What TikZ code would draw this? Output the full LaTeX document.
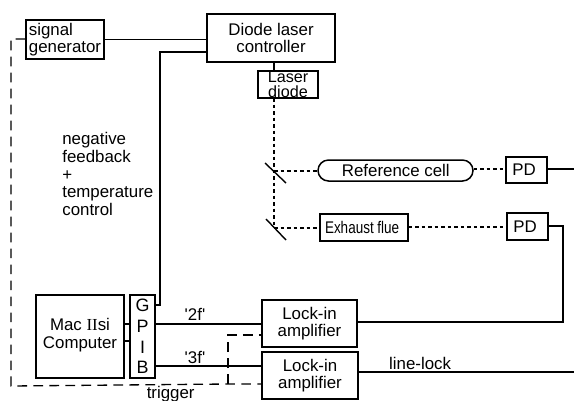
\documentclass[tikz,border=0pt]{standalone}
\usepackage{fontspec}
\setmainfont{Liberation Sans}
\newfontfamily\iifont{Liberation Serif}
\newfontfamily\narrowfont[FakeStretch=0.8]{Liberation Sans}
\usetikzlibrary{calc, shapes.misc}
\tikzset{
	boxnode/.style={
			rectangle,
			draw=black,
			line width=0.85pt,
			inner sep=0pt,
			align=center,
			font=\fontsize{9.6}{9.9}\selectfont
		},
	cellnode/.style={
			boxnode,
			rounded rectangle
		},
	labelnode/.style={
			inner sep=0pt,
			align=left,
			font=\fontsize{9.6}{10.2}\selectfont
		},
	wire/.style={
			line width=0.75pt
		},
	beam/.style={
			line width=0.8pt,
			dash pattern=on 2pt off 1.7pt
		},
	trigline/.style={
			line width=0.75pt,
			dash pattern=on 5.5pt off 3.6pt
		}
}

\begin{document}
\begin{tikzpicture}[x=0.02cm, y=-0.02cm]
\useasboundingbox (0,0) rectangle (574,400);

\node[boxnode, minimum width=1.56cm, minimum height=0.78cm, align=left] (sg) at (65,39.5)  { signal\\generator };
\node[boxnode, minimum width=2.56cm, minimum height=0.96cm] (dlc) at (271,38)  { Diode laser\\controller };
\node[boxnode, minimum width=1.2cm, minimum height=0.54cm, font=\fontsize{9.2}{8.5}\selectfont] (ld) at (288,84.5)  { Laser\\diode };
\node[cellnode, minimum width=3.1cm, minimum height=0.42cm] (rc) at (395.5,170.5)  { \hspace{3pt}Reference cell };
\node[boxnode, minimum width=0.82cm, minimum height=0.52cm] (pd1) at (526.5,170)  { PD };
\node[boxnode, minimum width=1.76cm, minimum height=0.54cm, font=\narrowfont\fontsize{9.6}{9.9}\selectfont] (ef) at (364,227.5)  { Exhaust flue };
\node[boxnode, minimum width=0.82cm, minimum height=0.54cm] (pd2) at (527.5,226.5)  { PD };
\node[boxnode, minimum width=1.76cm, minimum height=1.66cm, font=\fontsize{9.6}{10.2}\selectfont] (mac) at (80,336.5)  { Mac {\iifont II}si\\Computer\\[-6.8pt] };
\node[boxnode, minimum width=0.5cm, minimum height=1.66cm, font=\fontsize{10.2}{11.7}\selectfont] (gpib) at (142.5,336.5)  { G\\P\\I\\B };
\node[boxnode, minimum width=1.9cm, minimum height=0.94cm] (li1) at (309.5,323.5)  { Lock-in\\amplifier };
\node[boxnode, minimum width=1.92cm, minimum height=0.94cm] (li2) at (310,375.5)  { Lock-in\\amplifier };

\node[labelnode, anchor=west] (fb) at (62,174)  { negative\\feedback\\+\\temperature\\control };
\node[labelnode] (l2f) at (195,314)  { \textquotesingle2f\textquotesingle };
\node[labelnode] (l3f) at (195,357)  { \textquotesingle3f\textquotesingle };
\node[labelnode] (ll) at (422.5,363)  { line-lock };
\node[labelnode] (trig) at (173,394.5)  { trigger };

% turning points and free ends
\coordinate (m1) at (274,171);
\coordinate (m2) at (274,228);
\coordinate (fbc) at (160,305);
\coordinate (pdc) at (563,226);
\coordinate (trc) at (228,384);
\coordinate (sgd) at (11,39);

\draw[wire] (sg.east) -- (sg.east -| dlc.west);
\draw[wire] (gpib.east |- fbc) -- (fbc) -- (160,52) -- (160,52 -| dlc.west);
\draw[wire] (274,62) -- (274,71);

\draw[wire] (mac.east |- 0,324) -- (gpib.west |- 0,324);
\draw[wire] (mac.east |- 0,341) -- (gpib.west |- 0,341);
\draw[wire] (gpib.east |- 0,324) -- (li1.west |- 0,324);
\draw[wire] (gpib.east |- 0,366) -- (li2.west |- 0,366);
\draw[wire] (li1.east |- 0,322) -- (563,322) -- (pdc) -- (pd2.east |- pdc);
\draw[wire] (pd1.east |- 0,169) -- (574,169);
\draw[wire] (li2.east |- 0,372) -- (574,372);

% beam path
\draw[beam] (274,98) -- (m2);
\draw[beam] (m1) -- (rc.west |- m1);
\draw[beam] (rc.east |- 0,169) -- (pd1.west |- 0,169);
\draw[beam] (m2) -- (ef.west |- m2);
\draw[beam] (ef.east |- 0,227) -- (pd2.west |- 0,227);

% mirrors
\draw[line width=0.8pt] (265,163) -- (286,183);
\draw[line width=0.8pt] (266,219) -- (286,240);

% trigger lines
\draw[trigline] (sg.west |- sgd) -- (sgd) -- (11,386) -- (228,384) -- (li2.west |- trc);
\draw[trigline] (trc) -- (228,335) -- (li1.west |- 0,335);
\end{tikzpicture}
\end{document}
